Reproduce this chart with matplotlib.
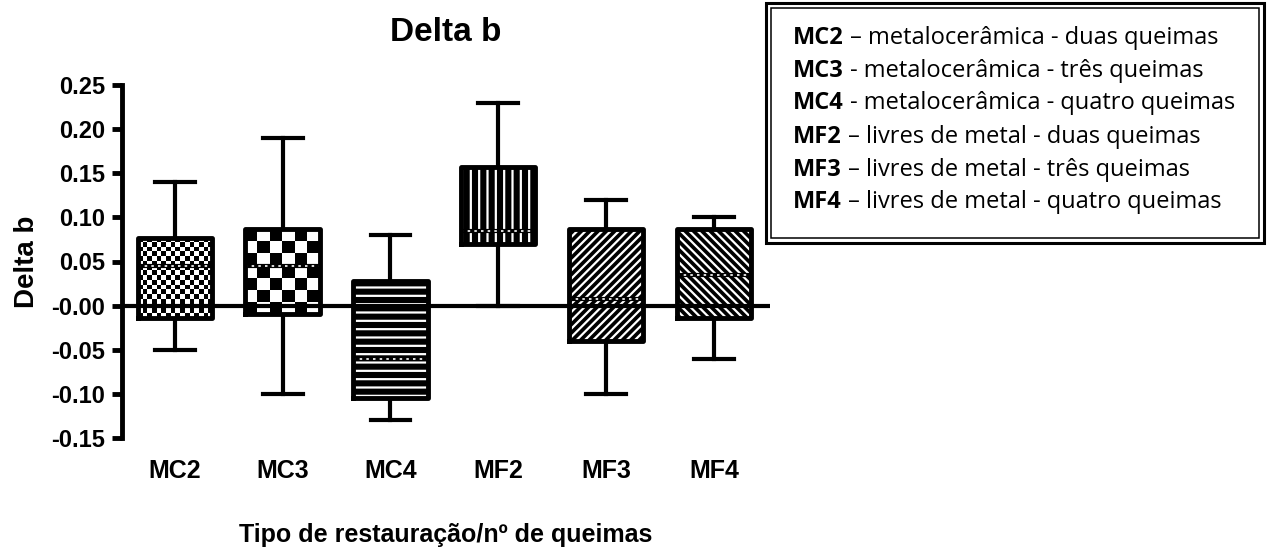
import matplotlib
import matplotlib.pyplot as plt
import numpy as np
from matplotlib.patches import Rectangle

matplotlib.use("Agg")

groups = ["MC2", "MC3", "MC4", "MF2", "MF3", "MF4"]
whisker_low = [-0.05, -0.10, -0.13, 0.00, -0.10, -0.06]
q1 = [-0.014, -0.009, -0.105, 0.070, -0.040, -0.014]
median = [0.045, 0.045, -0.060, 0.085, 0.008, 0.035]
q3 = [0.077, 0.087, 0.028, 0.157, 0.087, 0.087]
whisker_high = [0.14, 0.19, 0.08, 0.23, 0.12, 0.10]

yticks = [-0.15, -0.10, -0.05, 0.00, 0.05, 0.10, 0.15, 0.20, 0.25]
ytick_labels = ["-0.15", "-0.10", "-0.05", "-0.00", "0.05", "0.10", "0.15", "0.20", "0.25"]

legend_codes = ["MC2", "MC3", "MC4", "MF2", "MF3", "MF4"]
legend_desc = [
	"– metalocerâmica - duas queimas",
	"- metalocerâmica - três queimas",
	"- metalocerâmica - quatro queimas",
	"– livres de metal - duas queimas",
	"– livres de metal - três queimas",
	"– livres de metal - quatro queimas",
]

# fill style per box: ("checker", n_columns) or ("hatch", pattern)
fills = [("checker", 16), ("checker", 6), ("hatch", "--"), ("hatch", "||"), ("hatch", "////"), ("hatch", "\\\\\\\\")]

plt.rcParams["font.family"] = ["Liberation Sans", "DejaVu Sans"]
plt.rcParams["hatch.linewidth"] = 1.6

W, H = 1270, 547
fig = plt.figure(figsize=(12.7, 5.47), dpi=100)
ax = fig.add_axes([122 / W, 1 - 438 / H, (770 - 122) / W, (438 - 85) / H])

pos = np.arange(len(groups))
box_w = 0.69
ax.set_xlim(-0.49, 5.52)
ax.set_ylim(-0.15, 0.25)

stats = [
	{"whislo": lo, "q1": a, "med": m, "q3": b, "whishi": hi, "label": g}
	for g, lo, a, m, b, hi in zip(groups, whisker_low, q1, median, q3, whisker_high)
]
ax.bxp(
	stats,
	positions=pos,
	widths=box_w,
	showfliers=False,
	boxprops=dict(color="black", linewidth=3.5, zorder=6),
	whiskerprops=dict(color="black", linewidth=3, zorder=2),
	capprops=dict(color="black", linewidth=3, zorder=2),
	capwidths=0.37,
	medianprops=dict(linewidth=0),
)

ax.axhline(0, color="black", linewidth=3, zorder=3.5)

# pixels per data unit, for square checker cells
px_x = ax.get_position().width * W / (5.52 + 0.49)
px_y = ax.get_position().height * H / 0.40

for i, (kind, arg) in enumerate(fills):
	x0 = pos[i] - box_w / 2
	if kind == "hatch":
		ax.bar(pos[i], q3[i] - q1[i], bottom=q1[i], width=box_w, color="black",
			edgecolor="white", hatch=arg, linewidth=0, zorder=3)
	else:
		cell = box_w * px_x / arg
		ny = max(1, int(round((q3[i] - q1[i]) * px_y / cell)))
		yy, xx = np.indices((ny, arg))
		board = (xx + yy) % 2
		ax.imshow(board, cmap="gray", vmin=0, vmax=1, interpolation="nearest",
			extent=(x0, x0 + box_w, q1[i], q3[i]), aspect="auto", origin="lower", zorder=3)
	ax.hlines(median[i], x0, x0 + box_w, color="black", linewidth=3, zorder=4)
	ax.hlines(median[i], x0, x0 + box_w, color="white", linewidth=1.2, linestyles=(0, (1.5, 2.5)), zorder=5)

ax.set_xlim(-0.49, 5.52)
ax.set_ylim(-0.15, 0.25)

for side in ["top", "right", "bottom"]:
	ax.spines[side].set_visible(False)
ax.spines["left"].set_linewidth(3.5)
ax.set_yticks(yticks)
ax.set_yticklabels(ytick_labels, fontsize=17, fontweight="bold")
ax.tick_params(axis="y", direction="out", length=7, width=3.5, pad=5)
ax.set_xticks(pos)
ax.set_xticklabels(groups, fontsize=18, fontweight="bold")
ax.tick_params(axis="x", length=0, pad=15)

ax.set_title("Delta b", fontsize=24, fontweight="bold", pad=32)
ax.set_ylabel("Delta b", fontsize=20, fontweight="bold", labelpad=8)
ax.set_xlabel("Tipo de restauração/nº de queimas", fontsize=18, fontweight="bold", labelpad=29)

# legend box with double frame
fig.patches.append(Rectangle((766 / W, 1 - 243 / H), 498 / W, 240 / H, transform=fig.transFigure,
	fill=False, edgecolor="black", linewidth=2.2))
fig.patches.append(Rectangle((771 / W, 1 - 238 / H), 488 / W, 230 / H, transform=fig.transFigure,
	fill=False, edgecolor="black", linewidth=1.1))

renderer = fig.canvas.get_renderer()
line_y = [38, 71, 103, 137, 170, 202]
for code, desc, y in zip(legend_codes, legend_desc, line_y):
	t = fig.text(793 / W, 1 - y / H, code, fontsize=17, fontweight="bold",
		family=["Open Sans", "DejaVu Sans"], va="center", ha="left")
	bb = t.get_window_extent(renderer=renderer)
	fig.text((bb.x1 + 6) / W, 1 - y / H, desc, fontsize=17,
		family=["Open Sans", "DejaVu Sans"], va="center", ha="left")

fig.savefig("out.png", dpi=100)
